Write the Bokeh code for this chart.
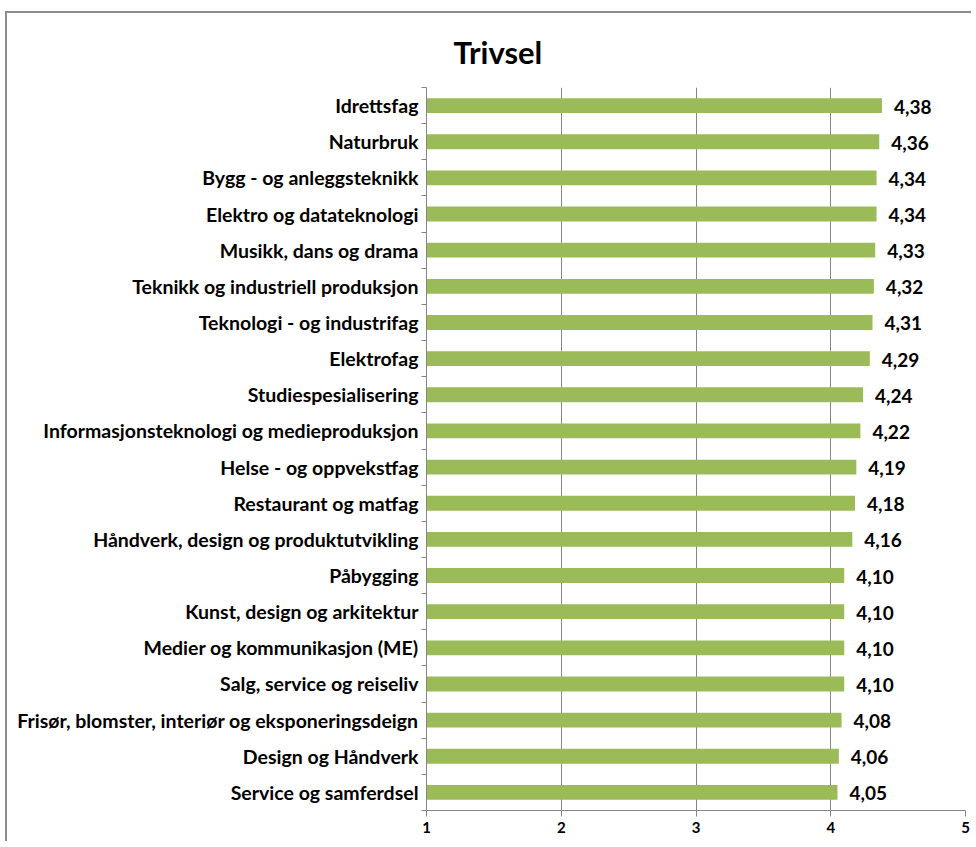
from bokeh.plotting import figure
from bokeh.models import FixedTicker
from bokeh.core.properties import value
from bokeh.embed import file_html
from bokeh.resources import INLINE

categories = [
    "Idrettsfag",
    "Naturbruk",
    "Bygg - og anleggsteknikk",
    "Elektro og datateknologi",
    "Musikk, dans og drama",
    "Teknikk og industriell produksjon",
    "Teknologi - og industrifag",
    "Elektrofag",
    "Studiespesialisering",
    "Informasjonsteknologi og medieproduksjon",
    "Helse - og oppvekstfag",
    "Restaurant og matfag",
    "Håndverk, design og produktutvikling",
    "Påbygging",
    "Kunst, design og arkitektur",
    "Medier og kommunikasjon (ME)",
    "Salg, service og reiseliv",
    "Frisør, blomster, interiør og eksponeringsdeign",
    "Design og Håndverk",
    "Service og samferdsel",
]
values = [4.38, 4.36, 4.34, 4.34, 4.33, 4.32, 4.31, 4.29, 4.24, 4.22,
          4.19, 4.18, 4.16, 4.10, 4.10, 4.10, 4.10, 4.08, 4.06, 4.05]
x_ticks = [1, 2, 3, 4, 5]
title_text = "Trivsel"

FONT = "Lato"
GRID = "#868686"
n = len(categories)
pos = [n - 1 - i for i in range(n)]
labels = [f"{v:.2f}".replace(".", ",") for v in values]

p = figure(width=966, height=830, output_backend="svg", toolbar_location=None,
           x_range=(1, 5), y_range=(-0.5, n - 0.5),
           min_border_left=419, min_border_right=8, min_border_top=74,
           min_border_bottom=33)
p.styles = {"border-left": "2px solid #8c8c8c", "border-top": "2px solid #8c8c8c",
            "margin-left": "5px", "margin-top": "11px"}
p.outline_line_color = None
p.background_fill_color = "white"

p.hbar(y=pos, left=1, right=values, height=0.41, fill_color="#9BBB59", line_color=None)
p.text(x=values, y=pos, text=labels, x_offset=12, y_offset=1,
       text_baseline="middle", text_align="left",
       text_font=value(FONT), text_font_style="bold", text_font_size="19px",
       text_color="#000000")

# x axis
p.xaxis.ticker = FixedTicker(ticks=x_ticks)
p.xaxis.major_label_overrides = {t: str(t) for t in x_ticks}
p.xaxis.axis_line_color = GRID
p.xaxis.major_tick_line_color = GRID
p.xaxis.major_tick_out = 6
p.xaxis.major_tick_in = 0
p.xaxis.minor_tick_line_color = None
p.xaxis.major_label_text_font = FONT
p.xaxis.major_label_text_font_style = "bold"
p.xaxis.major_label_text_font_size = "15px"
p.xaxis.major_label_text_color = "#000000"
p.xaxis.major_label_standoff = 5

# y axis
p.yaxis.ticker = FixedTicker(ticks=pos, minor_ticks=[k - 0.5 for k in range(n + 1)])
p.yaxis.major_label_overrides = {pp: c for pp, c in zip(pos, categories)}
p.yaxis.axis_line_color = GRID
p.yaxis.major_tick_line_color = None
p.yaxis.major_tick_out = 0
p.yaxis.major_tick_in = 0
p.yaxis.minor_tick_line_color = GRID
p.yaxis.minor_tick_out = 5
p.yaxis.minor_tick_in = 0
p.yaxis.major_label_text_font = FONT
p.yaxis.major_label_text_font_style = "bold"
p.yaxis.major_label_text_font_size = "19.5px"
p.yaxis.major_label_text_color = "#000000"
p.yaxis.major_label_standoff = 3

p.xgrid.ticker = FixedTicker(ticks=x_ticks)
p.xgrid.grid_line_color = GRID
p.ygrid.grid_line_color = None

p.title.text = title_text
p.title.align = "left"
p.title.offset = 27
p.title.standoff = 34
p.title.text_font = FONT
p.title.text_font_style = "bold"
p.title.text_font_size = "31px"
p.title.text_color = "#000000"

open("out.html", "w").write(file_html(p, INLINE))
